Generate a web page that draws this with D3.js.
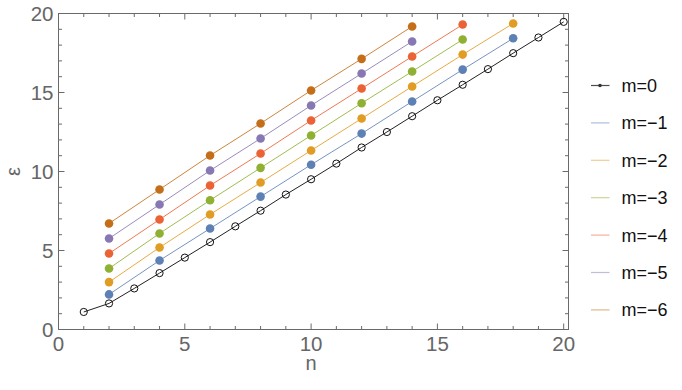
<!DOCTYPE html>
<html>
<head>
<meta charset="utf-8">
<script src="https://d3js.org/d3.v7.min.js"></script>
<style>
  body { margin: 0; background: #fff; }
  text { font-family: "Liberation Sans", Arial, sans-serif; }
</style>
</head>
<body>
<div id="chart"></div>
<script>
var w = 682, h = 390;

// data
var n0 = d3.range(1, 21);
var e0 = [1.11, 1.65, 2.6, 3.57, 4.55, 5.53, 6.53, 7.52, 8.54, 9.51,
          10.5, 11.52, 12.5, 13.5, 14.51, 15.49, 16.48, 17.49, 18.48, 19.47];

var nEven = [2, 4, 6, 8, 10, 12, 14, 16, 18];
var eM1 = [2.22, 4.37, 6.39, 8.41, 10.43, 12.4, 14.43, 16.45, 18.43];
var eM2 = [3.0, 5.19, 7.28, 9.3, 11.33, 13.35, 15.38, 17.4, 19.37];
var eM3 = [3.86, 6.08, 8.18, 10.23, 12.28, 14.32, 16.33, 18.35];
var eM4 = [4.81, 6.96, 9.11, 11.14, 13.23, 15.25, 17.28, 19.3];
var eM5 = [5.76, 7.91, 10.06, 12.09, 14.18, 16.2, 18.23];
var eM6 = [6.71, 8.86, 11.01, 13.04, 15.13, 17.13, 19.18];

var labels = ["m=0", "m=\u22121", "m=\u22122", "m=\u22123", "m=\u22124", "m=\u22125", "m=\u22126"];
var colors = ["#222222", "#5E81B5", "#E19C24", "#8FB032", "#EB6235", "#8778B3", "#C56E1A"];

var series = [e0, eM1, eM2, eM3, eM4, eM5, eM6].map(function(vals, i) {
  var ns = i === 0 ? n0 : nEven;
  return vals.map(function(v, j) { return {n: ns[j], e: v}; });
});

var svg = d3.select("#chart").append("svg")
  .attr("width", w).attr("height", h);

var x = d3.scaleLinear().domain([0, 20.19]).range([58.5, 568.5]);
var y = d3.scaleLinear().domain([0, 20]).range([329.5, 13.5]);

var frameCol = "#6a6a6a";
var labelCol = "#666666";

// frame
svg.append("rect")
  .attr("x", x(0)).attr("y", y(20))
  .attr("width", x(20.19) - x(0)).attr("height", y(0) - y(20))
  .attr("fill", "none").attr("stroke", frameCol).attr("stroke-width", 1);

// ticks (inward, on all four sides)
var minor = d3.range(0, 21, 1);
function tickLen(v) { return v % 5 === 0 ? 6 : 3.5; }
minor.forEach(function(v) {
  var L = tickLen(v);
  if (v > 0 && v < 20.1) {
    svg.append("line").attr("x1", x(v)).attr("x2", x(v))
      .attr("y1", y(0)).attr("y2", y(0) - L).attr("stroke", frameCol);
    svg.append("line").attr("x1", x(v)).attr("x2", x(v))
      .attr("y1", y(20)).attr("y2", y(20) + L).attr("stroke", frameCol);
  }
  if (v > 0 && v < 20) {
    svg.append("line").attr("y1", y(v)).attr("y2", y(v))
      .attr("x1", x(0)).attr("x2", x(0) + L).attr("stroke", frameCol);
    svg.append("line").attr("y1", y(v)).attr("y2", y(v))
      .attr("x1", x(20.19)).attr("x2", x(20.19) - L).attr("stroke", frameCol);
  }
});

// tick labels
[0, 5, 10, 15, 20].forEach(function(v) {
  svg.append("text").attr("x", x(v)).attr("y", 351)
    .attr("text-anchor", "middle").attr("font-size", 20.5)
    .attr("fill", labelCol).text(v);
  svg.append("text").attr("x", x(0) - 5).attr("y", y(v) + 7)
    .attr("text-anchor", "end").attr("font-size", 20.5)
    .attr("fill", labelCol).text(v);
});

// axis labels
svg.append("text").attr("x", x(10)).attr("y", 369.5)
  .attr("text-anchor", "middle").attr("font-size", 20)
  .attr("fill", labelCol).text("n");
svg.append("text")
  .attr("transform", "translate(20," + y(10) + ") rotate(-90)")
  .attr("text-anchor", "middle").attr("font-size", 20)
  .attr("fill", labelCol).text("\u03b5");

// lines
var line = d3.line().x(function(d) { return x(d.n); }).y(function(d) { return y(d.e); });
series.forEach(function(s, i) {
  svg.append("path").datum(s)
    .attr("d", line).attr("fill", "none")
    .attr("stroke", colors[i]).attr("stroke-width", 1)
    .attr("stroke-opacity", i === 0 ? 1 : 0.85);
});

// markers
series.forEach(function(s, i) {
  svg.selectAll(".pt" + i).data(s).enter().append("circle")
    .attr("class", "pt" + i)
    .attr("cx", function(d) { return x(d.n); })
    .attr("cy", function(d) { return y(d.e); })
    .attr("r", i === 0 ? 3.6 : 4.3)
    .attr("fill", i === 0 ? "none" : colors[i])
    .attr("stroke", i === 0 ? "#111" : "none")
    .attr("stroke-width", 1);
});

// legend
var leg = svg.selectAll(".leg").data(labels).enter().append("g")
  .attr("class", "leg")
  .attr("transform", function(d, i) { return "translate(0," + (85.5 + i * 37.4) + ")"; });
leg.append("line").attr("x1", 591).attr("x2", 609.5)
  .attr("y1", 0).attr("y2", 0)
  .attr("stroke", function(d, i) { return colors[i]; })
  .attr("stroke-width", 1.2)
  .attr("stroke-opacity", function(d, i) { return i === 0 ? 0.8 : 0.5; });
leg.filter(function(d, i) { return i === 0; }).append("circle")
  .attr("cx", 600).attr("cy", 0).attr("r", 1.8).attr("fill", "#333");
leg.append("text").attr("x", 621.5).attr("y", 6.5)
  .attr("font-size", 18).attr("fill", "#111")
  .text(function(d) { return d; });
</script>
</body>
</html>
